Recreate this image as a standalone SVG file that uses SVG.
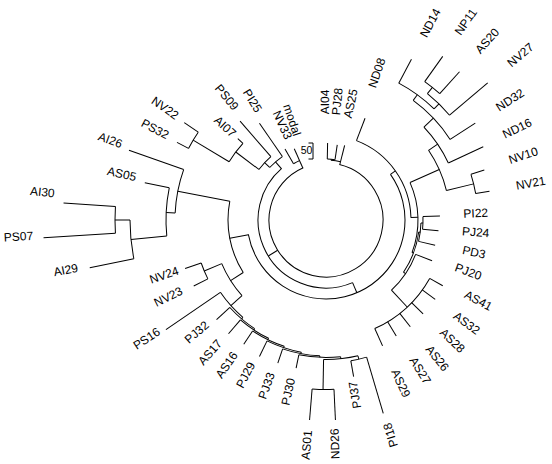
<svg xmlns="http://www.w3.org/2000/svg" width="552" height="464" viewBox="0 0 552 464">
<style>
.e{fill:none;stroke:#000;stroke-width:1}
text{font-family:"Liberation Sans",Arial,sans-serif;font-size:12px;fill:#000;text-anchor:middle;dominant-baseline:central}
</style>
<rect width="552" height="464" fill="#fff"/>
<g transform="translate(326,220)">
<g id="connectors">
<circle class="e" r="57" stroke-dasharray="320.7 9999" transform="rotate(-76.4)"/>
<circle class="e" r="61" stroke-dasharray="7.77 9999" transform="rotate(-88.8)"/>
<circle class="e" r="60" stroke-dasharray="9.63 9999" transform="rotate(-85.2)"/>
<line class="e" y1="-60" y2="-61" transform="rotate(4.8)"/>
<line class="e" y1="-57" y2="-68" transform="rotate(238)"/>
<circle class="e" r="68" stroke-dasharray="192.27 9999" transform="rotate(67)"/>
<line class="e" y1="-68" y2="-79" transform="rotate(157)"/>
<circle class="e" r="79" stroke-dasharray="281.97 9999" transform="rotate(-35.3)"/>
<line class="e" y1="-79" y2="-85" transform="rotate(54.7)"/>
<circle class="e" r="85" stroke-dasharray="100 9999" transform="rotate(-69)"/>
<line class="e" y1="-85" y2="-92" transform="rotate(88.35)"/>
<circle class="e" r="92" stroke-dasharray="71.77 9999" transform="rotate(-24)"/>
<line class="e" y1="-92" y2="-124" transform="rotate(66)"/>
<circle class="e" r="124" stroke-dasharray="44.26 9999" transform="rotate(-34.2)"/>
<line class="e" y1="-124" y2="-152" transform="rotate(76.25)"/>
<circle class="e" r="152" stroke-dasharray="19.9 9999" transform="rotate(-17.5)"/>
<line class="e" y1="-124" y2="-135" transform="rotate(55.8)"/>
<circle class="e" r="135" stroke-dasharray="43.59 9999" transform="rotate(-43.5)"/>
<line class="e" y1="-135" y2="-148" transform="rotate(46.5)"/>
<circle class="e" r="148" stroke-dasharray="53.99 9999" transform="rotate(-53.9)"/>
<line class="e" y1="-148" y2="-155" transform="rotate(36.1)"/>
<circle class="e" r="155" stroke-dasharray="43.82 9999" transform="rotate(-62)"/>
<line class="e" y1="-155" y2="-162" transform="rotate(44.2)"/>
<circle class="e" r="162" stroke-dasharray="30.96 9999" transform="rotate(-51.25)"/>
<line class="e" y1="-162" y2="-170" transform="rotate(38.75)"/>
<circle class="e" r="170" stroke-dasharray="19.29 9999" transform="rotate(-54.5)"/>
<line class="e" y1="-92" y2="-93.5" transform="rotate(110.7)"/>
<circle class="e" r="93.5" stroke-dasharray="43.41 9999" transform="rotate(7.4)"/>
<line class="e" y1="-93.5" y2="-95" transform="rotate(97.4)"/>
<circle class="e" r="95" stroke-dasharray="18.65 9999" transform="rotate(1.75)"/>
<line class="e" y1="-95" y2="-97" transform="rotate(91.75)"/>
<circle class="e" r="97" stroke-dasharray="12.7 9999" transform="rotate(-2)"/>
<line class="e" y1="-93.5" y2="-96" transform="rotate(124)"/>
<circle class="e" r="96" stroke-dasharray="43.56 9999" transform="rotate(21)"/>
<line class="e" y1="-96" y2="-119" transform="rotate(137)"/>
<circle class="e" r="119" stroke-dasharray="75.6 9999" transform="rotate(29.4)"/>
<circle class="e" r="143" stroke-dasharray="16.22 9999" transform="rotate(73.5)"/>
<line class="e" y1="-139.5" y2="-143" transform="rotate(166.75)"/>
<circle class="e" r="139.5" stroke-dasharray="34.7 9999" transform="rotate(76.75)"/>
<line class="e" y1="-139.5" y2="-169.5" transform="rotate(181)"/>
<circle class="e" r="169.5" stroke-dasharray="21.89 9999" transform="rotate(87.3)"/>
<line class="e" y1="-137.5" y2="-139.5" transform="rotate(173.9)"/>
<circle class="e" r="137.5" stroke-dasharray="42 9999" transform="rotate(83.9)"/>
<line class="e" y1="-136" y2="-137.5" transform="rotate(182.6)"/>
<circle class="e" r="136" stroke-dasharray="37.98 9999" transform="rotate(92.6)"/>
<line class="e" y1="-134.5" y2="-136" transform="rotate(190.6)"/>
<circle class="e" r="134.5" stroke-dasharray="36.15 9999" transform="rotate(100.6)"/>
<line class="e" y1="-133" y2="-134.5" transform="rotate(198.3)"/>
<circle class="e" r="133" stroke-dasharray="35.28 9999" transform="rotate(108.3)"/>
<line class="e" y1="-131.5" y2="-133" transform="rotate(205.9)"/>
<circle class="e" r="131.5" stroke-dasharray="33.74 9999" transform="rotate(115.9)"/>
<line class="e" y1="-130" y2="-131.5" transform="rotate(213.3)"/>
<circle class="e" r="130" stroke-dasharray="32.67 9999" transform="rotate(123.3)"/>
<line class="e" y1="-128" y2="-130" transform="rotate(220.5)"/>
<circle class="e" r="128" stroke-dasharray="33.73 9999" transform="rotate(130.5)"/>
<line class="e" y1="-113" y2="-128" transform="rotate(228)"/>
<circle class="e" r="113" stroke-dasharray="38.06 9999" transform="rotate(138)"/>
<line class="e" y1="-113" y2="-132" transform="rotate(247.3)"/>
<circle class="e" r="132" stroke-dasharray="17.28 9999" transform="rotate(153.5)"/>
<line class="e" y1="-98" y2="-113" transform="rotate(237.6)"/>
<line class="e" y1="-79" y2="-98" transform="rotate(259.2)"/>
<circle class="e" r="98" stroke-dasharray="74.23 9999" transform="rotate(147.6)"/>
<line class="e" y1="-98" y2="-151" transform="rotate(281)"/>
<circle class="e" r="151" stroke-dasharray="44.28 9999" transform="rotate(182.7)"/>
<line class="e" y1="-151" y2="-160" transform="rotate(272.7)"/>
<circle class="e" r="160" stroke-dasharray="48.31 9999" transform="rotate(174.3)"/>
<line class="e" y1="-160" y2="-196" transform="rotate(264.3)"/>
<circle class="e" r="196" stroke-dasharray="39 9999" transform="rotate(168.6)"/>
<line class="e" y1="-196" y2="-211" transform="rotate(270)"/>
<circle class="e" r="211" stroke-dasharray="26.88 9999" transform="rotate(176.4)"/>
<line class="e" y1="-68" y2="-77" transform="rotate(319)"/>
<circle class="e" r="77" stroke-dasharray="16.8 9999" transform="rotate(223)"/>
<line class="e" y1="-77" y2="-84" transform="rotate(313)"/>
<circle class="e" r="84" stroke-dasharray="17.59 9999" transform="rotate(217)"/>
<line class="e" y1="-84" y2="-113" transform="rotate(307)"/>
<circle class="e" r="113" stroke-dasharray="23.07 9999" transform="rotate(211)"/>
<line class="e" y1="-113" y2="-155" transform="rotate(301)"/>
<circle class="e" r="155" stroke-dasharray="18.94 9999" transform="rotate(207.5)"/>
<circle class="e" r="65" stroke-dasharray="6.81 9999" transform="rotate(240)"/>
</g>
<g id="n-AI04"><line class="e" y1="-61" y2="-77" transform="rotate(1.2)"/><text transform="rotate(-90.5)" x="118">AI04</text></g>
<g id="n-PJ28"><line class="e" y1="-61" y2="-76" transform="rotate(8.5)"/><text transform="rotate(-84.5)" x="119">PJ28</text></g>
<g id="n-AS25"><line class="e" y1="-57" y2="-77" transform="rotate(14)"/><text transform="rotate(-78)" x="119">AS25</text></g>
<g id="n-ND08"><line class="e" y1="-85" y2="-109" transform="rotate(21)"/><text transform="rotate(-70.9)" x="155.6">ND08</text></g>
<g id="n-ND14"><line class="e" y1="-155" y2="-182" transform="rotate(28)"/><text transform="rotate(-62.1)" x="223">ND14</text></g>
<g id="n-NP11"><line class="e" y1="-170" y2="-201" transform="rotate(35.5)"/><text transform="rotate(-54.8)" x="242.6">NP11</text></g>
<g id="n-AS20"><line class="e" y1="-170" y2="-199.5" transform="rotate(42)"/><text transform="rotate(-48)" x="241">AS20</text></g>
<g id="n-NV27"><line class="e" y1="-162" y2="-212" transform="rotate(49.7)"/><text transform="rotate(-40.3)" x="255">NV27</text></g>
<g id="n-ND32"><line class="e" y1="-148" y2="-178" transform="rotate(57)"/><text transform="rotate(-33.1)" x="219.7">ND32</text></g>
<g id="n-ND16"><line class="e" y1="-135" y2="-173.5" transform="rotate(65)"/><text transform="rotate(-25.6)" x="212">ND16</text></g>
<g id="n-NV10"><line class="e" y1="-152" y2="-166" transform="rotate(72.5)"/><text transform="rotate(-18.1)" x="207.5">NV10</text></g>
<g id="n-NV21"><line class="e" y1="-152" y2="-166" transform="rotate(80)"/><text transform="rotate(-10.2)" x="208">NV21</text></g>
<g id="n-PI22"><line class="e" y1="-97" y2="-114" transform="rotate(88)"/><text transform="rotate(-2.6)" x="149.9">PI22</text></g>
<g id="n-PJ24"><line class="e" y1="-97" y2="-113" transform="rotate(95.5)"/><text transform="rotate(4.7)" x="150.2">PJ24</text></g>
<g id="n-PD3"><line class="e" y1="-95" y2="-112" transform="rotate(103)"/><text transform="rotate(12.3)" x="151.5">PD3</text></g>
<g id="n-PJ20"><line class="e" y1="-96" y2="-113.6" transform="rotate(111)"/><text transform="rotate(20)" x="151.4">PJ20</text></g>
<g id="n-AS41"><line class="e" y1="-119" y2="-134" transform="rotate(119.4)"/><text transform="rotate(27.9)" x="172.4">AS41</text></g>
<g id="n-AS32"><line class="e" y1="-119" y2="-135" transform="rotate(126)"/><text transform="rotate(36.3)" x="174.5">AS32</text></g>
<g id="n-AS28"><line class="e" y1="-119" y2="-135" transform="rotate(134)"/><text transform="rotate(43.7)" x="174.7">AS28</text></g>
<g id="n-AS26"><line class="e" y1="-119" y2="-136" transform="rotate(141.7)"/><text transform="rotate(51.2)" x="177.5">AS26</text></g>
<g id="n-AS27"><line class="e" y1="-119" y2="-135.6" transform="rotate(148.8)"/><text transform="rotate(58)" x="177.6">AS27</text></g>
<g id="n-AS29"><line class="e" y1="-119" y2="-138" transform="rotate(155.8)"/><text transform="rotate(65.4)" x="179.6">AS29</text></g>
<g id="n-PI18"><line class="e" y1="-143" y2="-201.6" transform="rotate(163.5)"/><text transform="rotate(-106.7)" x="-224.5">PI18</text></g>
<g id="n-PJ37"><line class="e" y1="-143" y2="-159" transform="rotate(170)"/><text transform="rotate(-99.4)" x="-177.4">PJ37</text></g>
<g id="n-ND26"><line class="e" y1="-169.5" y2="-200.2" transform="rotate(177.3)"/><text transform="rotate(-92.3)" x="-224">ND26</text></g>
<g id="n-AS01"><line class="e" y1="-169.5" y2="-200.6" transform="rotate(184.7)"/><text transform="rotate(-85.1)" x="-225.8">AS01</text></g>
<g id="n-PJ30"><line class="e" y1="-137.5" y2="-151.2" transform="rotate(191.4)"/><text transform="rotate(-77.6)" x="-175.8">PJ30</text></g>
<g id="n-PJ33"><line class="e" y1="-136" y2="-151" transform="rotate(198.6)"/><text transform="rotate(-70.3)" x="-176">PJ33</text></g>
<g id="n-PJ29"><line class="e" y1="-134.5" y2="-151.8" transform="rotate(206)"/><text transform="rotate(-62.6)" x="-174.6">PJ29</text></g>
<g id="n-AS16"><line class="e" y1="-133" y2="-149" transform="rotate(213.5)"/><text transform="rotate(-55.6)" x="-175.7">AS16</text></g>
<g id="n-AS17"><line class="e" y1="-131.5" y2="-149.8" transform="rotate(220.6)"/><text transform="rotate(-48.8)" x="-176">AS17</text></g>
<g id="n-PJ32"><line class="e" y1="-130" y2="-148" transform="rotate(227.7)"/><text transform="rotate(-41)" x="-171.3">PJ32</text></g>
<g id="n-PS16"><line class="e" y1="-128" y2="-194" transform="rotate(235.6)"/><text transform="rotate(-33.5)" x="-215">PS16</text></g>
<g id="n-NV23"><line class="e" y1="-132" y2="-147.8" transform="rotate(243.5)"/><text transform="rotate(-26)" x="-175.4">NV23</text></g>
<g id="n-NV24"><line class="e" y1="-132" y2="-149" transform="rotate(251)"/><text transform="rotate(-18.8)" x="-171">NV24</text></g>
<g id="n-AI29"><line class="e" y1="-196" y2="-241" transform="rotate(258.6)"/><text transform="rotate(-10.9)" x="-265">AI29</text></g>
<g id="n-PS07"><line class="e" y1="-211" y2="-283" transform="rotate(266.4)"/><text transform="rotate(-3.1)" x="-308">PS07</text></g>
<g id="n-AI30"><line class="e" y1="-211" y2="-263" transform="rotate(273.7)"/><text transform="rotate(5.6)" x="-285">AI30</text></g>
<g id="n-AS05"><line class="e" y1="-160" y2="-185" transform="rotate(281.6)"/><text transform="rotate(12.7)" x="-209.4">AS05</text></g>
<g id="n-AI26"><line class="e" y1="-151" y2="-209" transform="rotate(289.5)"/><text transform="rotate(20.3)" x="-230">AI26</text></g>
<g id="n-PS32"><line class="e" y1="-155" y2="-168" transform="rotate(297.5)"/><text transform="rotate(28)" x="-193.7">PS32</text></g>
<g id="n-NV22"><line class="e" y1="-155" y2="-172" transform="rotate(304.5)"/><text transform="rotate(34.8)" x="-196">NV22</text></g>
<g id="n-AI07"><line class="e" y1="-113" y2="-120" transform="rotate(312.7)"/><text transform="rotate(42.7)" x="-137.5">AI07</text></g>
<g id="n-PS09"><line class="e" y1="-84" y2="-131" transform="rotate(319)"/><text transform="rotate(51)" x="-157.8">PS09</text></g>
<g id="n-PI25"><line class="e" y1="-77" y2="-117.5" transform="rotate(325.5)"/><text transform="rotate(58.3)" x="-140.2">PI25</text></g>
<g id="n-NV33"><line class="e" y1="-65" y2="-82" transform="rotate(330)"/><text transform="rotate(65.3)" x="-104.6">NV33</text></g>
<g id="n-modal"><line class="e" y1="-57" y2="-78" transform="rotate(336)"/><text transform="rotate(71.2)" x="-105.6">modal</text></g>
</g>
<g id="scale">
<path class="e" d="M308.5,143 H313 V159 H308.5"/>
<text x="306.5" y="150" style="font-size:10.5px">50</text>
</g>
</svg>
